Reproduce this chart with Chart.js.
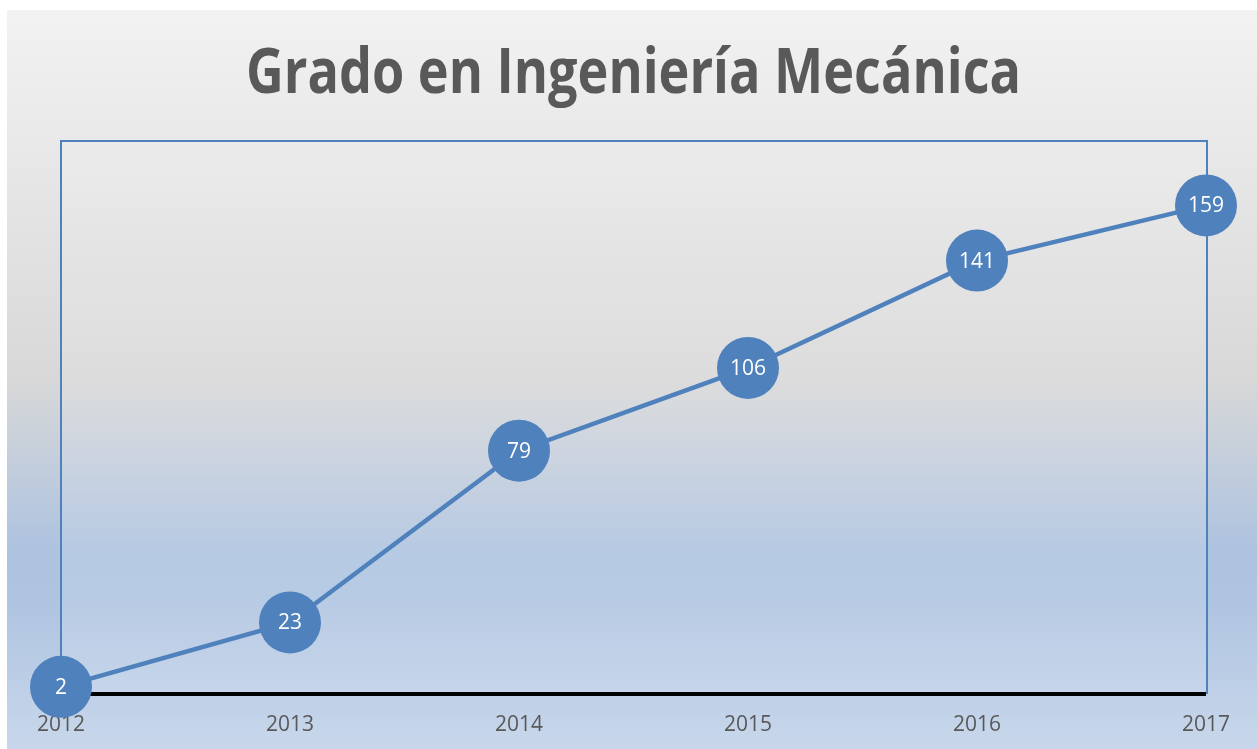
<!DOCTYPE html>
<html>
<head>
<meta charset="utf-8">
<script src="https://cdn.jsdelivr.net/npm/chart.js@4.4.0/dist/chart.umd.min.js"></script>
<style>
  html, body { margin: 0; padding: 0; background: #ffffff; }
  #wrap { position: absolute; left: 7px; top: 10px; width: 1250px; height: 739px; }
</style>
</head>
<body>
<div id="wrap"><canvas id="c"></canvas></div>
<script>
const titleText = 'Grado en Ingeniería Mecánica';
const years = ['2012', '2013', '2014', '2015', '2016', '2017'];
const values = [2, 23, 79, 106, 141, 159];
const yMin = 0;
const yMax = 180;

const BLUE = '#4f81bd';

const bgPlugin = {
  id: 'bg',
  beforeDraw(chart) {
    const ctx = chart.ctx;
    const w = chart.width, h = chart.height;
    const g = ctx.createLinearGradient(0, 0, 0, h);
    g.addColorStop(0, '#f2f2f2');
    g.addColorStop(0.5, '#d8d8d8');
    g.addColorStop(0.73, '#aec3e0');
    g.addColorStop(0.8, '#afc4e1');
    g.addColorStop(1, '#c8d7eb');
    ctx.save();
    ctx.fillStyle = g;
    ctx.fillRect(0, 0, w, h);
    // title
    ctx.font = 'bold 62px "Open Sans"';
    ctx.fillStyle = '#595959';
    ctx.textBaseline = 'alphabetic';
    ctx.textAlign = 'left';
    const tw = ctx.measureText(titleText).width;
    const target = 775;
    const sx = target / tw;
    const cx = 626.5;
    ctx.translate(cx - target / 2, 83);
    ctx.scale(sx, 1);
    ctx.fillText(titleText, 0, 0);
    ctx.restore();
  },
  beforeDatasetsDraw(chart) {
    const ctx = chart.ctx;
    const a = chart.chartArea;
    ctx.save();
    ctx.fillStyle = 'rgba(255,255,255,0.12)';
    ctx.fillRect(a.left, a.top, a.right - a.left, a.bottom - a.top);
    ctx.strokeStyle = BLUE;
    ctx.lineWidth = 2;
    ctx.strokeRect(a.left, a.top, a.right - a.left + 1, a.bottom - a.top);
    ctx.fillStyle = '#000000';
    ctx.fillRect(a.left, a.bottom - 1, a.right - a.left, 4);
    ctx.restore();
  },
  afterDatasetsDraw(chart) {
    const ctx = chart.ctx;
    const meta = chart.getDatasetMeta(0);
    ctx.save();
    ctx.font = '21px "Open Sans"';
    ctx.fillStyle = '#ffffff';
    ctx.textAlign = 'center';
    ctx.textBaseline = 'middle';
    meta.data.forEach((pt, i) => {
      ctx.fillText(String(values[i]), pt.x, pt.y + 1);
    });
    ctx.restore();
  }
};

new Chart(document.getElementById('c'), {
  type: 'line',
  data: {
    labels: years,
    datasets: [{
      data: values,
      borderColor: BLUE,
      borderWidth: 4.5,
      pointRadius: 31,
      pointHoverRadius: 31,
      pointBackgroundColor: BLUE,
      pointBorderColor: BLUE,
      pointBorderWidth: 0,
      tension: 0,
      clip: false
    }]
  },
  options: {
    responsive: true,
    maintainAspectRatio: false,
    animation: false,
    events: [],
    layout: { padding: { left: 54, right: 51, top: 131, bottom: 0 } },
    plugins: { legend: { display: false }, title: { display: false }, tooltip: { enabled: false } },
    scales: {
      x: {
        type: 'category',
        offset: false,
        grid: { display: false, drawTicks: false },
        border: { display: false },
        ticks: { color: '#595959', font: { family: 'Open Sans', size: 21 }, padding: 19, maxRotation: 0, autoSkip: false },
        afterFit(scale) { scale.height = 56; }
      },
      y: {
        display: false,
        min: yMin,
        max: yMax
      }
    }
  },
  plugins: [bgPlugin]
});
</script>
</body>
</html>
